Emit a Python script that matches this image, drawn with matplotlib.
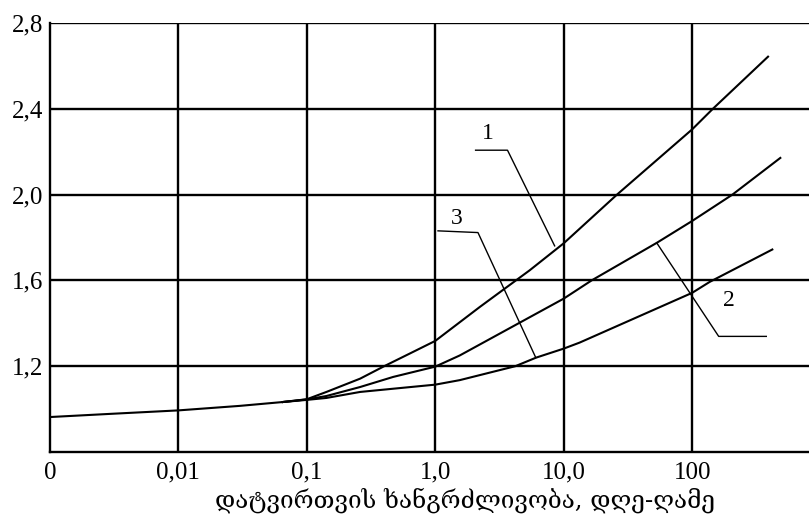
import matplotlib.pyplot as plt

# duration of loading, days (0 on the axis stands for 0.001)
base_t = [0.001, 0.003, 0.01, 0.03, 0.065]
base_k = [0.963, 0.978, 0.994, 1.015, 1.033]

curve1_t = [0.065, 0.1, 0.142, 0.26, 0.4, 0.633, 1.0, 2.22, 5.43, 10, 26, 100, 145, 390]
curve1_k = [1.033, 1.046, 1.08, 1.142, 1.2, 1.259, 1.318, 1.476, 1.647, 1.773, 2.0, 2.304, 2.4, 2.643]

curve2_t = [0.065, 0.1, 0.142, 0.26, 0.47, 1.0, 1.55, 10, 16.5, 53, 100, 206, 486]
curve2_k = [1.033, 1.045, 1.061, 1.103, 1.15, 1.198, 1.25, 1.515, 1.6, 1.775, 1.877, 2.0, 2.171]

curve3_t = [0.065, 0.1, 0.142, 0.26, 0.47, 1.0, 1.55, 4.2, 6.1, 10, 13.3, 100, 137, 421]
curve3_k = [1.033, 1.043, 1.052, 1.08, 1.095, 1.114, 1.135, 1.2, 1.24, 1.282, 1.31, 1.542, 1.593, 1.744]

xticks = [0.001, 0.01, 0.1, 1, 10, 100]
xtick_labels = ["0", "0,01", "0,1", "1,0", "10,0", "100"]
yticks = [1.2, 1.6, 2.0, 2.4, 2.8]
ytick_labels = ["1,2", "1,6", "2,0", "2,4", "2,8"]

serif = ["Liberation Serif", "DejaVu Serif"]

fig = plt.figure(figsize=(8.09, 5.25), dpi=100)
ax = fig.add_axes([50 / 809, 1 - 452 / 525, 1 - 50 / 809, 429 / 525])
ax.set_xscale("log")
ax.set_xlim(0.001, 10 ** 2.91)
ax.set_ylim(0.8, 2.8)

for t in xticks[1:]:
    ax.axvline(t, color="black", lw=1.7, zorder=1)
for k in yticks:
    ax.axhline(k, color="black", lw=1.7, zorder=1)

lw = 1.5
ax.plot(base_t, base_k, color="black", lw=lw, solid_capstyle="butt")
ax.plot(curve1_t, curve1_k, color="black", lw=lw)
ax.plot(curve2_t, curve2_k, color="black", lw=lw)
ax.plot(curve3_t, curve3_k, color="black", lw=lw)

# callouts
ax.plot([2.06, 3.65, 8.5], [2.207, 2.207, 1.761], color="black", lw=1.0)
ax.plot([1.05, 2.15, 6.06], [1.831, 1.823, 1.24], color="black", lw=1.0)
ax.plot([53, 161, 378], [1.775, 1.339, 1.339], color="black", lw=1.0)
ax.text(2.56, 2.287, "1", ha="center", va="center", fontsize=17, family=serif)
ax.text(1.46, 1.89, "3", ha="center", va="center", fontsize=17, family=serif)
ax.text(193, 1.507, "2", ha="center", va="center", fontsize=17, family=serif)

ax.set_xticks(xticks)
ax.set_xticklabels(xtick_labels, family=serif, fontsize=18)
ax.minorticks_off()
ax.set_yticks(yticks)
ax.set_yticklabels(ytick_labels, family=serif, fontsize=18)
ax.tick_params(length=0)
ax.tick_params(axis="x", pad=7)
ax.tick_params(axis="y", pad=5)

for side in ["top", "right"]:
    ax.spines[side].set_visible(False)
for side in ["left", "bottom"]:
    ax.spines[side].set_linewidth(1.7)

fig.text(465 / 809, 1 - 500 / 525, "დატვირთვის ხანგრძლივობა, დღე-ღამე",
         ha="center", va="center", fontsize=17.5, family=["DejaVu Serif", "DejaVu Sans"])

fig.savefig("out.png", dpi=100)
